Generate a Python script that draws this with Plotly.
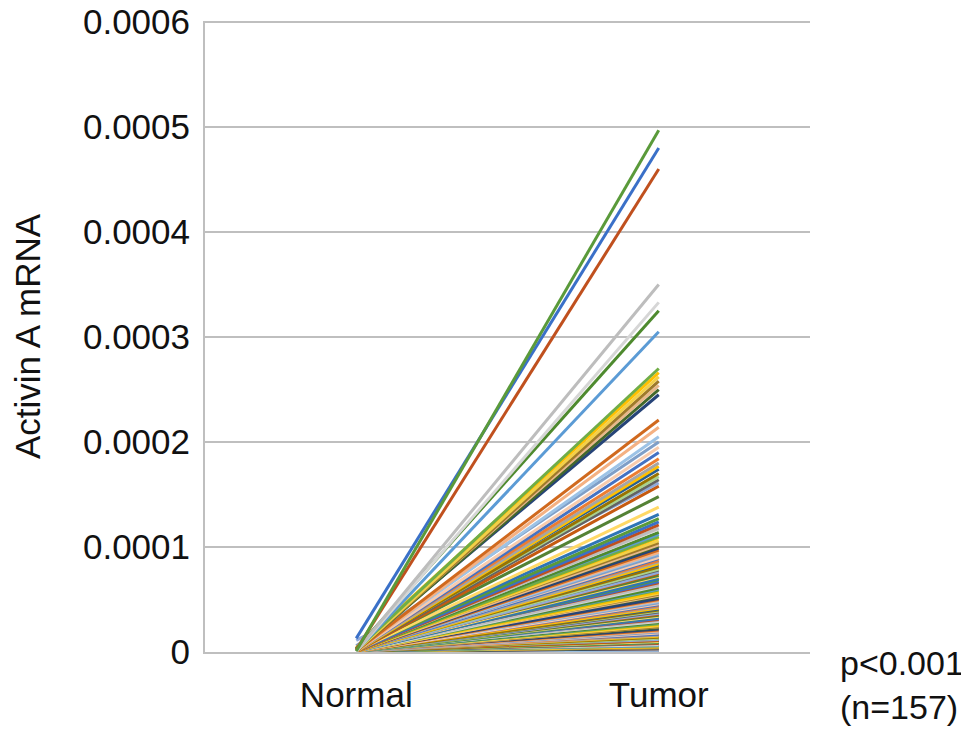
import plotly.graph_objects as go

categories = ["Normal", "Tumor"]

# Activin A mRNA, in units of 1e-6
tumor_e6 = [
    497, 480, 460, 350, 333, 325, 305, 270, 266, 262,
    258, 254, 250, 245, 221, 214, 205, 200, 195, 190,
    184, 180, 177, 174, 170, 167, 164, 161, 158, 148,
    138, 131, 127, 124, 121, 118, 117, 114, 112, 110,
    109, 106, 104, 102, 101, 99, 97, 95, 94, 92,
    90, 89, 87, 86, 84, 83, 81, 79, 78, 76,
    75, 73, 72, 70, 69, 67, 66, 64, 63, 61,
    60, 59, 57, 56, 55, 54, 53, 51, 50, 49,
    48, 47, 46, 45, 44, 43, 42, 41, 40, 39,
    38, 37, 36, 35, 34, 33, 33, 32, 31, 30,
    29, 28, 28, 27, 26, 25, 24, 24, 23, 22,
    21, 20, 20, 19, 18, 17, 17, 16, 15, 15,
    14, 13, 13, 12, 11, 11, 10, 10, 9, 9,
    8, 8, 7, 7, 6, 6, 5, 5, 4, 4,
    4, 3, 3, 3, 2, 2, 2, 1, 1, 1,
    12, 26, 18, 7, 3, 9, 2,
]

normal_e6 = [
    1, 13, 2, 1, 0.5, 3, 1, 2, 4, 1,
    0.5, 2, 1, 3, 1, 0.5, 2, 6, 1, 1,
    2, 1, 0.5, 3, 1, 2, 1, 11, 0.5, 2,
    1, 3, 2, 1, 0.5, 1, 2, 1, 4, 1,
    0.5, 1, 2, 1, 3, 1, 0.5, 2, 1, 1,
    2, 1, 5, 1, 0.5, 2, 1, 1, 3, 0.5,
    1, 2, 1, 0.5, 1, 2, 3, 1, 0.5, 1,
    2, 1, 1, 0.5, 2, 1, 4, 1, 0.5, 1,
    1, 2, 0.5, 1, 1, 3, 1, 2, 0.5, 1,
    1, 0.5, 2, 1, 1, 2, 0.5, 1, 3, 1,
    2, 1, 0.5, 1, 2, 1, 1, 0.5, 2, 1,
    1, 1, 2, 0.5, 1, 3, 1, 0.5, 1, 2,
    0.5, 1, 1, 2, 1, 0.5, 1, 2, 1, 0.5,
    1, 2, 1, 0.5, 1, 1, 2, 0.5, 1, 1,
    0.5, 1, 1, 2, 0.5, 1, 1, 0.5, 1, 2,
    1, 0.5, 1, 1, 2, 0.5, 1,
]

y_tickvals = [0, 0.0001, 0.0002, 0.0003, 0.0004, 0.0005, 0.0006]
y_ticktext = ["0", "0.0001", "0.0002", "0.0003", "0.0004", "0.0005", "0.0006"]

palette = [
    "#5A9A3A", "#3A70C8", "#C0501E", "#BDBDBD", "#D6D6D6", "#4E8A2E",
    "#5B9BD5", "#70AD47", "#FFC000", "#F2D04A", "#9E7A2A", "#E8B88A",
    "#43682B", "#264478", "#D0691E", "#F4B183", "#9DC3E6", "#7F9FC8",
    "#F8CBAD", "#4472C4", "#ED7D31", "#A5A5A5", "#FFC000", "#255E91",
    "#997300", "#A9D18E", "#636363", "#8FAADC", "#C55A11", "#548235",
    "#FFD966", "#2E75B6",
]

fig = go.Figure()
n = len(tumor_e6)
# draw lowest-priority first so the first series end up on top
for i in reversed(range(n)):
    fig.add_trace(go.Scatter(
        x=categories,
        y=[normal_e6[i] * 1e-6, tumor_e6[i] * 1e-6],
        mode="lines",
        line=dict(color=palette[i % len(palette)], width=3),
        showlegend=False,
        hoverinfo="skip",
    ))

font_family = "Liberation Sans, Arial, sans-serif"
fs = 35

# the page body has an 8px margin, so the figure is sized to fit the window
fig.update_layout(
    width=961, height=727,
    margin=dict(l=197, r=159, t=13, b=83),
    paper_bgcolor="white", plot_bgcolor="white",
    font=dict(family=font_family, size=fs, color="#111111"),
    xaxis=dict(
        type="category", range=[-0.5, 1.5], automargin=False,
        showgrid=False, zeroline=False,
        showline=True, linecolor="#BFBFBF", linewidth=2,
        ticks="", tickfont=dict(size=fs),
        ticklabelstandoff=11,
    ),
    yaxis=dict(
        range=[0, 0.000601], tickvals=y_tickvals, ticktext=y_ticktext,
        automargin=False, ticklabeloverflow="allow",
        showgrid=True, gridcolor="#BFBFBF", gridwidth=2,
        zeroline=False,
        showline=True, linecolor="#BFBFBF", linewidth=2,
        ticks="", tickfont=dict(size=fs), ticklabelstandoff=6,
        title=dict(text="Activin A mRNA", font=dict(size=fs), standoff=48),
    ),
    annotations=[
        dict(text="p<0.001<br>(n=157)", xref="paper", yref="paper",
             x=1.046, y=0.0, xanchor="left", yanchor="top", yshift=10,
             showarrow=False, align="left", font=dict(size=34)),
    ],
)

fig.write_html("out.html")
